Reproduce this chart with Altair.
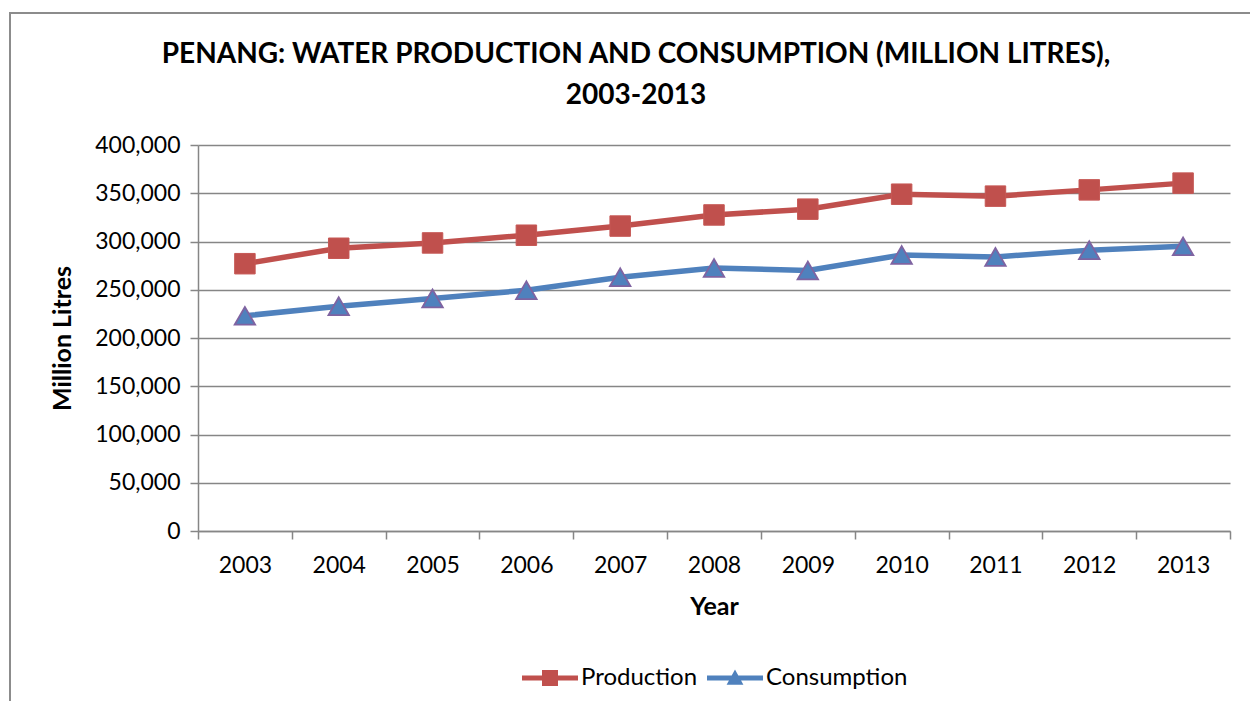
import altair as alt
import pandas as pd

years = ["2003", "2004", "2005", "2006", "2007", "2008", "2009", "2010", "2011", "2012", "2013"]
production = [277000, 293000, 298500, 306500, 316000, 327500, 333500, 349000, 347000, 353500, 360500]
consumption = [223000, 233000, 241000, 249500, 263000, 272500, 270000, 286000, 284000, 291000, 295000]
series_names = ["Production", "Consumption"]
colors = ["#C0504D", "#4F81BD"]
tri_stroke = "#7F63A1"
y_ticks = [0, 50000, 100000, 150000, 200000, 250000, 300000, 350000, 400000]
title_lines = ["PENANG: WATER PRODUCTION AND CONSUMPTION (MILLION LITRES),", "2003-2013"]

df = pd.DataFrame({
    "Year": years * 2,
    "Series": ["Production"] * len(years) + ["Consumption"] * len(years),
    "Value": production + consumption,
})

W, H = 1032, 386
FONT = "Lato"
GRAY = "#868686"

x = alt.X("Year:N",
          scale=alt.Scale(type="band", paddingInner=0, paddingOuter=0),
          axis=alt.Axis(title="Year", labelAngle=0, tickBand="extent", grid=False,
                        tickSize=8, labelPadding=15, titleY=75, titleBaseline="middle"))
y = alt.Y("Value:Q",
          scale=alt.Scale(domain=[0, 400000]),
          axis=alt.Axis(values=y_ticks, format=",.0f", title="Million Litres",
                        tickSize=8, labelPadding=10, titleX=-136, titleY=H / 2,
                        titleBaseline="middle"))

base = alt.Chart(df)
prod = base.transform_filter(alt.datum.Series == "Production")
cons = base.transform_filter(alt.datum.Series == "Consumption")

frame = alt.Chart(pd.DataFrame({"k": [0]})).mark_rect(
    fillOpacity=0, stroke="#8C8C8C", strokeWidth=2
).encode(x=alt.value(-188), x2=alt.value(W + 80), y=alt.value(-132), y2=alt.value(H + 300))

line_p = prod.mark_line(strokeWidth=5.5, color=colors[0]).encode(x=x, y=y)
line_c = cons.mark_line(strokeWidth=5.5, color=colors[1]).encode(x=x, y=y)

squares = prod.mark_point(
    shape="square", filled=True, size=420, fill=colors[0], stroke="#C65855", strokeWidth=1, opacity=1
).encode(x=x, y=y)

triangles = cons.mark_point(
    shape="triangle-up", filled=True, size=420, fill=colors[1], stroke=tri_stroke, strokeWidth=1.8, opacity=1
).encode(x=x, y=y)

path_p = "M-3.5,-0.3H3.5V0.3H-3.5Z M-1,-1H1V1H-1Z"
path_c = "M-3.5,-0.3H3.5V0.3H-3.5Z M0,-1.05L1.05,0.85H-1.05Z"

leg = alt.Legend(title=None, orient="none", legendX=340, legendY=521, direction="horizontal",
                 symbolSize=256, symbolOpacity=1, symbolStrokeWidth=0,
                 labelFont=FONT, labelFontSize=24, labelColor="black", labelOffset=19,
                 columnPadding=9, padding=0)

legend_layer = base.mark_point(filled=True, opacity=0).encode(
    x=x, y=y,
    color=alt.Color("Series:N", scale=alt.Scale(domain=series_names, range=colors), legend=leg),
    shape=alt.Shape("Series:N", scale=alt.Scale(domain=series_names, range=[path_p, path_c]), legend=leg),
)

chart = alt.layer(frame, line_p, line_c, squares, triangles, legend_layer).properties(
    width=W, height=H,
    background="white",
    autosize=alt.AutoSizeParams(type="none"),
    padding={"left": 190, "top": 137, "right": 20, "bottom": 170},
    title=alt.TitleParams(text=title_lines, font=FONT, fontSize=28, fontWeight="bold",
                          color="black", anchor="middle", dx=-78, offset=-98, lineHeight=41),
).configure_view(stroke=None).configure_axis(
    labelFont=FONT, labelFontSize=23, labelColor="black",
    titleFont=FONT, titleFontSize=25, titleFontWeight="bold", titleColor="black",
    domainColor=GRAY, tickColor=GRAY, gridColor=GRAY,
    domainWidth=1.5, tickWidth=1.5, gridWidth=1.5,
)

chart.save("out.html", embed_options={"renderer": "svg", "actions": False})
